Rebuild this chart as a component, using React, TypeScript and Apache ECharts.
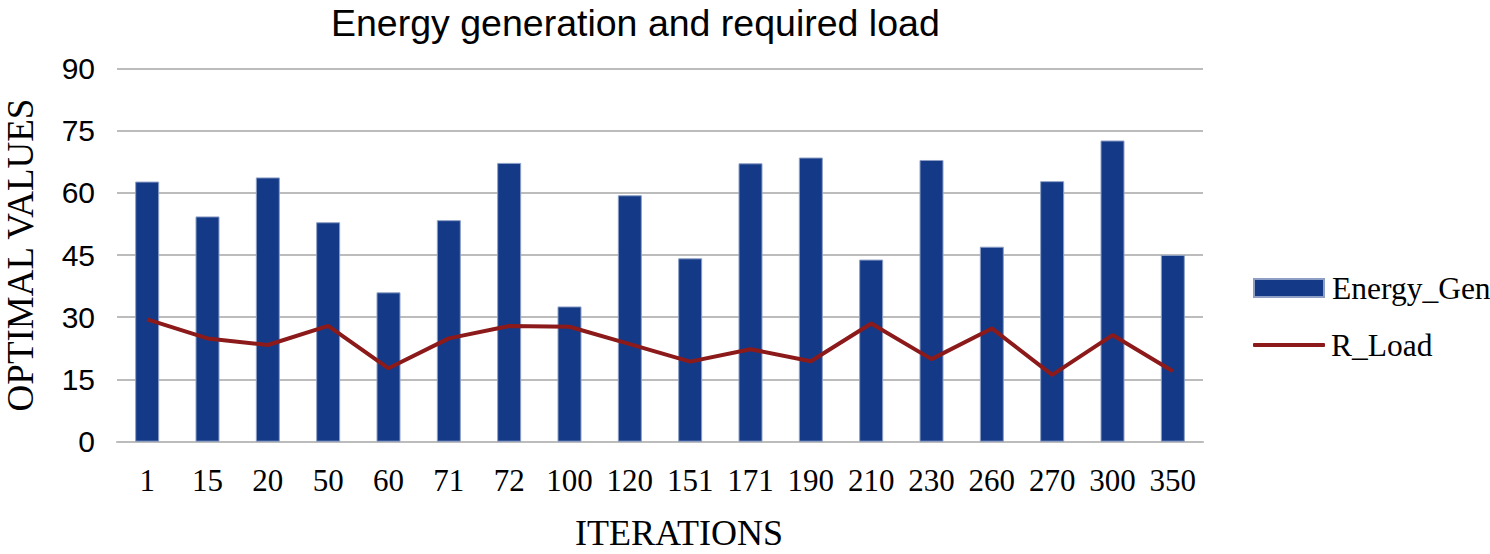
import React, { useEffect, useRef } from "react";
import * as echarts from "echarts";

const categories = ["1", "15", "20", "50", "60", "71", "72", "100", "120", "151", "171", "190", "210", "230", "260", "270", "300", "350"];
const energyGen = [62.7, 54.3, 63.7, 52.9, 36.0, 53.4, 67.2, 32.6, 59.4, 44.2, 67.1, 68.5, 43.9, 67.9, 47.0, 62.8, 72.6, 45.0];
const rLoad = [29.5, 24.9, 23.3, 27.9, 17.7, 24.9, 27.9, 27.7, 23.5, 19.3, 22.3, 19.4, 28.5, 19.9, 27.3, 16.1, 25.7, 17.0];

export default function App() {
  const ref = useRef<HTMLDivElement>(null);
  useEffect(() => {
    document.body.style.margin = "0";
    const chart = echarts.init(ref.current!, null, { renderer: "svg" });
    chart.setOption({
      animation: false,
      backgroundColor: "#ffffff",
      title: {
        text: "Energy generation and required load",
        left: 326,
        top: -1,
        textStyle: { fontFamily: "Liberation Sans", fontSize: 37.5, fontWeight: "normal", color: "#000" },
      },
      legend: [
        {
          data: [{ name: "Energy_Gen", icon: "rect" }],
          left: 1248,
          top: 267,
          itemWidth: 70,
          itemHeight: 18,
          textStyle: { fontFamily: "Liberation Serif", fontSize: 31.5, color: "#000", padding: [0, 0, 0, 3] },
        },
        {
          data: [{ name: "R_Load", icon: "roundRect" }],
          left: 1248,
          top: 324,
          itemWidth: 72,
          itemHeight: 4,
          textStyle: { fontFamily: "Liberation Serif", fontSize: 31.5, color: "#000", padding: [0, 0, 0, 1] },
        },
      ],
      grid: { left: 117, right: 287, top: 68.3, bottom: 112.3, containLabel: false, outerBoundsMode: "none" },
      xAxis: {
        type: "category",
        data: categories,
        name: "ITERATIONS",
        nameLocation: "middle",
        nameGap: 73,
        nameTextStyle: { fontFamily: "Liberation Serif", fontSize: 36, color: "#000", padding: [0, 0, 0, 38] },
        axisLine: { show: true, lineStyle: { color: "#bcbcbc", width: 2 } },
        axisTick: { show: false },
        axisLabel: { fontFamily: "Liberation Serif", fontSize: 31, color: "#000", margin: 23, interval: 0 },
      },
      yAxis: {
        type: "value",
        min: 0,
        max: 90,
        interval: 15,
        name: "OPTIMAL VALUES",
        nameLocation: "middle",
        nameGap: 78,
        nameTextStyle: { fontFamily: "Liberation Serif", fontSize: 37, color: "#000" },
        axisLine: { show: false },
        axisTick: { show: false },
        axisLabel: { fontFamily: "Liberation Sans", fontSize: 30, color: "#000", margin: 22 },
        splitLine: { lineStyle: { color: "#bcbcbc", width: 2 } },
      },
      series: [
        {
          name: "Energy_Gen",
          type: "bar",
          data: energyGen,
          barWidth: 24,
          itemStyle: { color: "#143a87", borderColor: "#8e9fc6", borderWidth: 1 },
        },
        {
          name: "R_Load",
          type: "line",
          data: rLoad,
          symbol: "none",
          lineStyle: { color: "#8c1a1a", width: 4 },
          itemStyle: { color: "#8c1a1a" },
        },
      ],
    });
    return () => chart.dispose();
  }, []);
  return <div ref={ref} style={{ width: 1490, height: 554 }} />;
}
